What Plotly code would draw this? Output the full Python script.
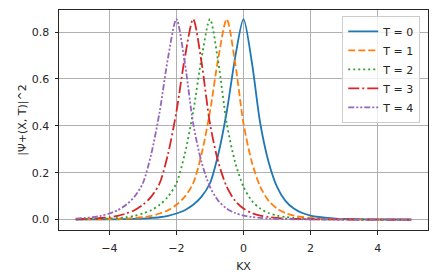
import plotly.graph_objects as go

# x grid (KX)
x = [-5.0, -4.75, -4.5, -4.25, -4.0, -3.75, -3.5, -3.25, -3.0, -2.75, -2.5, -2.25,
     -2.0, -1.75, -1.5, -1.25, -1.0, -0.75, -0.5, -0.25, 0.0, 0.25, 0.5, 0.75,
     1.0, 1.25, 1.5, 1.75, 2.0, 2.25, 2.5, 2.75, 3.0, 3.25, 3.5, 3.75, 4.0,
     4.25, 4.5, 4.75, 5.0]

t0 = [0.0004, 0.0005, 0.0006, 0.0008, 0.0010, 0.0014, 0.0020, 0.0030, 0.0045, 0.0068,
      0.0100, 0.0160, 0.0260, 0.0400, 0.0630, 0.0980, 0.1550, 0.2800, 0.4600, 0.6900,
      0.8550, 0.6700, 0.4100, 0.2450, 0.1400, 0.0800, 0.0470, 0.0280, 0.0170, 0.0110,
      0.0070, 0.0045, 0.0030, 0.0020, 0.0014, 0.0010, 0.0007, 0.0005, 0.0004, 0.0003,
      0.0002]

t1 = [0.0006, 0.0008, 0.0010, 0.0014, 0.0020, 0.0030, 0.0045, 0.0068, 0.0100, 0.0160,
      0.0260, 0.0400, 0.0630, 0.0980, 0.1550, 0.2800, 0.4600, 0.6900, 0.8550, 0.6700,
      0.4100, 0.2450, 0.1400, 0.0800, 0.0470, 0.0280, 0.0170, 0.0110, 0.0070, 0.0045,
      0.0030, 0.0020, 0.0014, 0.0010, 0.0007, 0.0005, 0.0004, 0.0003, 0.0002, 0.0002,
      0.0001]

t2 = [0.0010, 0.0014, 0.0020, 0.0030, 0.0045, 0.0068, 0.0100, 0.0160, 0.0260, 0.0400,
      0.0630, 0.0980, 0.1550, 0.2800, 0.4600, 0.6900, 0.8550, 0.6700, 0.4100, 0.2450,
      0.1400, 0.0800, 0.0470, 0.0280, 0.0170, 0.0110, 0.0070, 0.0045, 0.0030, 0.0020,
      0.0014, 0.0010, 0.0007, 0.0005, 0.0004, 0.0003, 0.0002, 0.0002, 0.0001, 0.0001,
      0.0001]

t3 = [0.0020, 0.0030, 0.0045, 0.0068, 0.0100, 0.0160, 0.0260, 0.0400, 0.0630, 0.0980,
      0.1550, 0.2800, 0.4600, 0.6900, 0.8550, 0.6700, 0.4100, 0.2450, 0.1400, 0.0800,
      0.0470, 0.0280, 0.0170, 0.0110, 0.0070, 0.0045, 0.0030, 0.0020, 0.0014, 0.0010,
      0.0007, 0.0005, 0.0004, 0.0003, 0.0002, 0.0002, 0.0001, 0.0001, 0.0001, 0.0001,
      0.0001]

t4 = [0.0045, 0.0068, 0.0100, 0.0160, 0.0260, 0.0400, 0.0630, 0.0980, 0.1550, 0.2800,
      0.4600, 0.6900, 0.8550, 0.6700, 0.4100, 0.2450, 0.1400, 0.0800, 0.0470, 0.0280,
      0.0170, 0.0110, 0.0070, 0.0045, 0.0030, 0.0020, 0.0014, 0.0010, 0.0007, 0.0005,
      0.0004, 0.0003, 0.0002, 0.0002, 0.0001, 0.0001, 0.0001, 0.0001, 0.0001, 0.0001,
      0.0001]

names = ["T = 0", "T = 1", "T = 2", "T = 3", "T = 4"]
series = [t0, t1, t2, t3, t4]
colors = ["#1f77b4", "#ff7f0e", "#2ca02c", "#d62728", "#9467bd"]
dashes = ["solid", "7px,3px", "2px,3px", "11px,3px,2px,3px", "6px,2px,2px,2px,2px,2px"]

xticks = [-4, -2, 0, 2, 4]
xticktext = ["\u22124", "\u22122", "0", "2", "4"]
yticks = [0.0, 0.2, 0.4, 0.6, 0.8]
yticktext = ["0.0", "0.2", "0.4", "0.6", "0.8"]

fig = go.Figure()
for name, ys, c, d in zip(names, series, colors, dashes):
    fig.add_trace(go.Scatter(x=x, y=ys, mode="lines", name=name,
                             line=dict(color=c, width=1.8, dash=d, shape="spline", smoothing=0.8)))

font = dict(family="DejaVu Sans", size=11, color="#262626")
axis_common = dict(showline=True, mirror=True, linecolor="#262626", linewidth=1,
                   showgrid=True, gridcolor="#b0b0b0", gridwidth=0.8, zeroline=False,
                   ticks="outside", ticklen=3.5, tickcolor="#262626", tickwidth=1,
                   tickfont=font)

fig.update_layout(
    width=437, height=280,
    margin=dict(l=59, r=9, t=10, b=50, autoexpand=False),
    paper_bgcolor="white", plot_bgcolor="white",
    font=font,
    xaxis=dict(range=[-5.5, 5.5], tickvals=xticks, ticktext=xticktext, ticklabelstandoff=4,
               title=dict(text="KX", font=font, standoff=8), automargin=False, **axis_common),
    yaxis=dict(range=[-0.0444, 0.894], tickvals=yticks, ticktext=yticktext, ticklabelstandoff=3,
               title=dict(text="|\u03a8+(X, T)|^2", font=font, standoff=2), automargin=False, **axis_common),
    legend=dict(x=0.979, y=0.973, xanchor="right", yanchor="top",
                bgcolor="rgba(255,255,255,0.8)", bordercolor="#cccccc", borderwidth=1,
                font=font, itemwidth=30, tracegroupgap=0),
    showlegend=True,
)

fig.write_html("out.html", config={"displayModeBar": False},
               post_script="document.body.style.margin='0px';")
